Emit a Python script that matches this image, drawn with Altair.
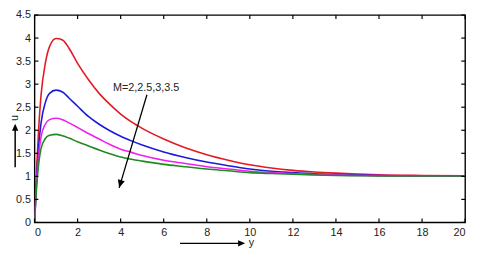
import altair as alt
import pandas as pd

xs = [0, 0.1, 0.2, 0.3, 0.5, 0.7, 1.0, 1.3, 1.6, 2.0, 2.5, 3.0, 3.5, 4.0, 4.5, 5.0,
      6, 7, 8, 9, 10, 11, 12, 13, 14, 15, 16, 18, 20]
u_m2 = [0, 1.2, 2.1, 2.75, 3.45, 3.82, 3.99, 3.96, 3.78, 3.45, 3.10, 2.80, 2.56, 2.35, 2.18, 2.04,
        1.81, 1.62, 1.47, 1.35, 1.25, 1.18, 1.13, 1.095, 1.07, 1.05, 1.035, 1.02, 1.01]
u_m25 = [0, 1.0, 1.7, 2.15, 2.6, 2.8, 2.87, 2.83, 2.70, 2.52, 2.30, 2.13, 1.99, 1.87, 1.77, 1.68,
         1.53, 1.41, 1.31, 1.23, 1.16, 1.11, 1.08, 1.055, 1.04, 1.03, 1.02, 1.01, 1.01]
u_m3 = [0, 0.9, 1.5, 1.85, 2.13, 2.23, 2.26, 2.23, 2.16, 2.06, 1.93, 1.81, 1.69, 1.59, 1.52, 1.45,
        1.35, 1.28, 1.21, 1.16, 1.11, 1.08, 1.06, 1.04, 1.03, 1.02, 1.015, 1.01, 1.01]
u_m35 = [0, 0.8, 1.3, 1.6, 1.82, 1.89, 1.91, 1.88, 1.83, 1.75, 1.66, 1.57, 1.49, 1.42, 1.37, 1.33,
         1.26, 1.21, 1.16, 1.12, 1.08, 1.06, 1.045, 1.03, 1.02, 1.015, 1.01, 1.01, 1.01]
m_labels = ["M=2", "M=2.5", "M=3", "M=3.5"]
colors = ["#e41a22", "#1c1cd6", "#f021ee", "#1f8a22"]

x_ticks = [0, 2, 4, 6, 8, 10, 12, 14, 16, 18, 20]
y_ticks = [0, 0.5, 1, 1.5, 2, 2.5, 3, 3.5, 4, 4.5]

annot_text = "M=2,2.5,3,3.5"

rows = []
for lab, vals in zip(m_labels, [u_m2, u_m25, u_m3, u_m35]):
    for x, v in zip(xs, vals):
        rows.append({"y": x, "u": v, "M": lab})
df = pd.DataFrame(rows)

xsc = alt.Scale(domain=[0, 20], nice=False)
ysc = alt.Scale(domain=[0, 4.5], nice=False)
x_axis = alt.Axis(values=x_ticks, title=None, grid=False, labelOverlap=False, format="~g")
y_axis = alt.Axis(values=y_ticks, title=None, grid=False, labelOverlap=False, format="~g")


def X(f):
    return alt.X(f, scale=xsc, axis=x_axis)


def Y(f):
    return alt.Y(f, scale=ysc, axis=y_axis)


lines = alt.Chart(df).mark_line(strokeWidth=1.6, interpolate="monotone", clip=True).encode(
    x=X("y:Q"),
    y=Y("u:Q"),
    color=alt.Color("M:N", scale=alt.Scale(domain=m_labels, range=colors), legend=None),
    detail="M:N",
)

# inward ticks
bt = pd.DataFrame({"x": x_ticks, "y0": 0.0, "y1": 0.085})
tt = pd.DataFrame({"x": x_ticks, "y0": 4.5, "y1": 4.5 - 0.085})
lt = pd.DataFrame({"y": y_ticks, "x0": 0.0, "x1": 0.18})
rt = pd.DataFrame({"y": y_ticks, "x0": 20.0, "x1": 20 - 0.18})


def vticks(d):
    return alt.Chart(d).mark_rule(color="black", strokeWidth=1.2).encode(
        x=X("x:Q"), y=Y("y0:Q"), y2="y1:Q")


def hticks(d):
    return alt.Chart(d).mark_rule(color="black", strokeWidth=1.2).encode(
        y=Y("y:Q"), x=X("x0:Q"), x2="x1:Q")


head_shape = "M0,0 L-0.45,1 L0.45,1 Z"

# annotation arrow
arr = pd.DataFrame({"x0": [5.22], "y0": [2.77], "x1": [3.93], "y1": [0.75]})
arrow_line = alt.Chart(arr).mark_rule(color="black", strokeWidth=1.3).encode(
    x=X("x0:Q"), y=Y("y0:Q"), x2="x1:Q", y2="y1:Q")
arrow_head = alt.Chart(arr).mark_point(shape=head_shape, filled=True, color="black",
                                       opacity=1, size=260, angle=196).encode(
    x=X("x1:Q"), y=Y("y1:Q"))
annot = alt.Chart(pd.DataFrame({"x": [5.18], "y": [2.91], "t": [annot_text]})).mark_text(
    font="Liberation Sans", fontSize=11, color="#222", align="center", baseline="middle").encode(
    x=X("x:Q"), y=Y("y:Q"), text="t:N")

# axis title arrows
xa = pd.DataFrame({"x0": [6.76], "x1": [9.65], "y": [-0.454]})
xa_line = alt.Chart(xa).mark_rule(color="black", strokeWidth=1.5).encode(
    x=X("x0:Q"), x2="x1:Q", y=Y("y:Q"))
xa_head = alt.Chart(pd.DataFrame({"x": [9.78], "y": [-0.454]})).mark_point(
    shape=head_shape, filled=True, color="black", opacity=1, size=200, angle=90).encode(
    x=X("x:Q"), y=Y("y:Q"))
xa_text = alt.Chart(pd.DataFrame({"x": [9.95], "y": [-0.454], "t": ["y"]})).mark_text(
    font="Liberation Sans", fontSize=11, color="#222", align="left", baseline="middle").encode(
    x=X("x:Q"), y=Y("y:Q"), text="t:N")

ya = pd.DataFrame({"x": [-0.9], "y0": [1.2], "y1": [2.05]})
ya_line = alt.Chart(ya).mark_rule(color="black", strokeWidth=1.5).encode(
    x=X("x:Q"), y=Y("y0:Q"), y2="y1:Q")
ya_head = alt.Chart(pd.DataFrame({"x": [-0.9], "y": [2.14]})).mark_point(
    shape=head_shape, filled=True, color="black", opacity=1, size=200, angle=0).encode(
    x=X("x:Q"), y=Y("y:Q"))
ya_text = alt.Chart(pd.DataFrame({"x": [-0.9], "y": [2.2], "t": ["u"]})).mark_text(
    font="Liberation Sans", fontSize=11, color="#222", align="left", baseline="middle",
    angle=270).encode(
    x=X("x:Q"), y=Y("y:Q"), text="t:N")

chart = alt.layer(
    lines, vticks(bt), vticks(tt), hticks(lt), hticks(rt),
    arrow_line, arrow_head, annot,
    xa_line, xa_head, xa_text, ya_line, ya_head, ya_text,
).properties(
    width=438, height=211,
    autosize=alt.AutoSizeParams(type="none"),
    padding={"left": 27, "top": 5, "right": 7, "bottom": 32},
).configure_view(
    stroke="black", strokeWidth=1.4
).configure_axis(
    domain=False, ticks=False, labelFont="Liberation Sans", labelFontSize=11,
    labelColor="#222", labelPadding=4
)

chart.save("out.html", embed_options={"renderer": "svg", "actions": False})
